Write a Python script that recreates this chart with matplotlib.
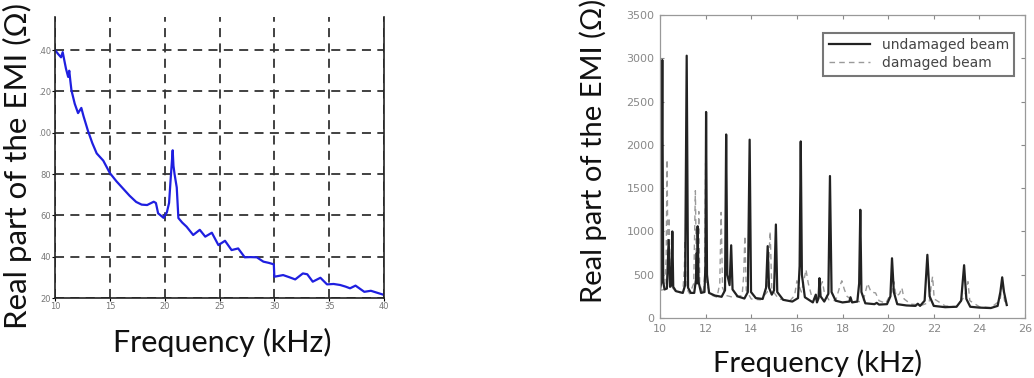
import matplotlib.pyplot as plt
import numpy as np

# left panel: measured EMI real part
freq_a = [10.0, 10.3, 10.55, 10.7, 11.0, 11.2, 11.3, 11.4, 11.5, 11.8, 12.1, 12.4, 12.6,
          13.0, 13.4, 13.8, 14.4, 15.0, 15.6, 16.2, 16.8, 17.4, 17.9, 18.4, 19.0, 19.2,
          19.4, 19.9, 20.2, 20.4, 20.55, 20.73, 20.8, 20.9, 21.1, 21.25, 21.6, 22.0,
          22.6, 23.2, 23.7, 24.3, 24.9, 25.5, 26.1, 26.7, 27.3, 27.8, 28.4, 29.0, 29.5,
          29.95, 30.0, 30.8, 31.4, 31.9, 32.6, 33.0, 33.5, 34.2, 34.8, 35.4, 36.0, 36.5,
          36.9, 37.4, 37.8, 38.2, 38.8, 39.4, 40.0]
emi_a = [140, 138, 136.5, 139, 131, 127, 130, 125, 120.5, 114, 109.5, 112, 108,
         101, 95, 90, 86.5, 80.5, 76.5, 73, 69.5, 66.5, 65.2, 65, 66.6, 66,
         61, 58.8, 61.5, 66, 78, 91.5, 84, 80, 73.5, 58.7, 56.5, 54.5,
         50.5, 53, 49.7, 51.6, 45.6, 47.7, 43.2, 44, 39.7, 39.8, 39.7, 37.6, 37,
         36.3, 30.3, 31.1, 30, 29, 31.9, 31.5, 27.9, 29.8, 26.6, 26.8, 26.3, 25.5,
         24.7, 26, 24.5, 23, 23.5, 22.5, 21.5]
yticks_a = [20, 40, 60, 80, 100, 120, 140]
ytick_labels_a = ["20", "40", "60", "80", ".00", ".20", ".40"]
xticks_a = [10, 15, 20, 25, 30, 35, 40]

# right panel: undamaged vs damaged beam
freq_u = [10.00, 10.05, 10.10, 10.14, 10.20, 10.30, 10.38, 10.44, 10.50, 10.54, 10.58, 10.70,
          11.00, 11.10, 11.17, 11.23, 11.35, 11.50, 11.58, 11.61, 11.63, 11.65, 11.69, 11.80,
          11.95, 11.99, 12.02, 12.06, 12.15, 12.40, 12.70, 12.85, 12.90, 12.95, 13.05, 13.12,
          13.18, 13.40, 13.70, 13.85, 13.93, 13.99, 14.20, 14.50, 14.65, 14.72, 14.78, 14.90,
          15.00, 15.08, 15.14, 15.40, 15.80, 16.05, 16.12, 16.17, 16.22, 16.35, 16.70, 16.83,
          16.88, 16.95, 16.99, 17.04, 17.20, 17.38, 17.45, 17.52, 17.70, 18.00, 18.30, 18.35,
          18.42, 18.65, 18.73, 18.78, 18.83, 19.00, 19.40, 19.50, 19.60, 19.95, 20.10, 20.17,
          20.25, 20.40, 20.80, 21.20, 21.30, 21.40, 21.60, 21.72, 21.82, 22.00, 22.50, 23.00,
          23.20, 23.33, 23.43, 23.60, 24.00, 24.50, 24.80, 24.92, 25.00, 25.08, 25.20]
emi_u = [330, 400, 2980, 420, 330, 340, 900, 360, 380, 1000, 360, 310,
         290, 380, 3030, 350, 290, 290, 450, 750, 400, 1060, 420, 290,
         300, 600, 2380, 500, 290, 260, 245, 320, 2120, 500, 380, 840,
         330, 250, 225, 300, 2060, 300, 230, 220, 350, 830, 350, 270,
         320, 1080, 300, 210, 190, 230, 600, 2040, 500, 240, 180, 270,
         180, 230, 460, 250, 190, 280, 1640, 300, 200, 180, 190, 240,
         180, 190, 400, 1250, 300, 170, 160, 175, 155, 160, 250, 690,
         300, 160, 145, 140, 165, 140, 200, 730, 250, 140, 125, 130,
         200, 610, 220, 130, 120, 115, 140, 300, 470, 300, 150]

freq_d = [10.00, 10.20, 10.27, 10.31, 10.35, 10.40, 10.45, 10.70, 11.00, 11.07, 11.10, 11.14,
          11.30, 11.48, 11.55, 11.60, 11.67, 11.70, 11.74, 11.90, 11.96, 12.00, 12.05, 12.20,
          12.50, 12.62, 12.68, 12.74, 12.90, 13.20, 13.60, 13.67, 13.72, 13.78, 14.00, 14.40,
          14.70, 14.83, 14.90, 15.20, 15.70, 15.90, 16.00, 16.08, 16.20, 16.32, 16.40, 16.50,
          16.65, 16.90, 17.05, 17.12, 17.20, 17.40, 17.70, 17.90, 17.97, 18.08, 18.20, 18.50,
          18.90, 19.10, 19.25, 19.45, 19.60, 19.90, 20.15, 20.25, 20.35, 20.50, 20.60, 20.70,
          21.00, 21.50, 21.80, 21.90, 21.95, 22.02, 22.50, 23.00, 23.35, 23.45, 23.50, 23.58,
          24.00, 24.50, 24.90, 25.02, 25.10, 25.20]
emi_d = [320, 330, 700, 1830, 600, 1160, 380, 300, 290, 600, 900, 350,
         280, 400, 1470, 500, 700, 1230, 380, 280, 500, 1790, 400, 270,
         240, 400, 1220, 350, 260, 240, 260, 500, 950, 320, 220, 210,
         300, 1000, 330, 220, 200, 260, 430, 380, 300, 450, 560, 400,
         250, 200, 380, 420, 300, 210, 200, 380, 430, 330, 250, 190,
         190, 400, 300, 290, 200, 170, 300, 420, 250, 280, 350, 220,
         160, 150, 180, 400, 480, 220, 140, 130, 250, 350, 420, 200,
         130, 120, 200, 400, 200, 150]
xticks_b = np.arange(10, 27, 2)
yticks_b = np.arange(0, 3501, 500)

label_font = "Lato"

fig = plt.figure(figsize=(10.34, 3.78), dpi=100)

# ---- left
ax1 = fig.add_axes([0.0532, 0.2116, 0.3182, 0.7434])
ax1.plot(freq_a, emi_a, color="#1f1fe0", lw=1.6)
ax1.set_xlim(10, 40)
ax1.set_ylim(20, 156)
ax1.set_xticks(xticks_a)
ax1.set_yticks(yticks_a)
ax1.set_yticklabels(ytick_labels_a)
ax1.tick_params(labelsize=6, labelcolor="#777777", length=2, width=0.8, pad=1)
ax1.grid(True, color="#333333", ls=(0, (5, 3.5)), lw=1.3)
ax1.spines["top"].set_visible(False)
for s in ["left", "bottom", "right"]:
    ax1.spines[s].set_color("#222222")
    ax1.spines[s].set_linewidth(1.2)
fig.text(0.017, 0.56, "Real part of the EMI (\u03a9)", rotation=90, ha="center", va="center",
         fontsize=22.5, family=label_font, color="#111111")
fig.text(0.215, 0.093, "Frequency (kHz)", ha="center", va="center",
         fontsize=22, family=label_font, color="#111111")

# ---- right
ax2 = fig.add_axes([0.6383, 0.1587, 0.3530, 0.8016])
ax2.plot(freq_d, emi_d, color="#9a9a9a", lw=1.0, ls=(0, (4, 3)), label="damaged beam")
ax2.plot(freq_u, emi_u, color="#222222", lw=1.6, label="undamaged beam")
ax2.set_xlim(10, 26)
ax2.set_ylim(0, 3500)
ax2.set_xticks(xticks_b)
ax2.set_yticks(yticks_b)
ax2.tick_params(direction="in", top=True, right=True, labelsize=8, labelcolor="#888888",
                color="#888888", length=3, pad=4)
for s in ax2.spines.values():
    s.set_color("#999999")
    s.set_linewidth(0.9)
h, l = ax2.get_legend_handles_labels()
leg = ax2.legend(h[::-1], l[::-1], loc="upper right", bbox_to_anchor=(0.99, 0.965),
                 fontsize=10, frameon=True, fancybox=False, handlelength=3,
                 borderpad=0.4, labelspacing=0.3)
leg.get_frame().set_edgecolor("#555555")
leg.get_frame().set_linewidth(1.5)
for t in leg.get_texts():
    t.set_color("#444444")
fig.text(0.574, 0.6, "Real part of the EMI (\u03a9)", rotation=90, ha="center", va="center",
         fontsize=21, family=label_font, color="#111111")
fig.text(0.791, 0.002, "Frequency (kHz)", ha="center", va="bottom",
         fontsize=21, family=label_font, color="#111111")

fig.savefig("out.png", dpi=100)
